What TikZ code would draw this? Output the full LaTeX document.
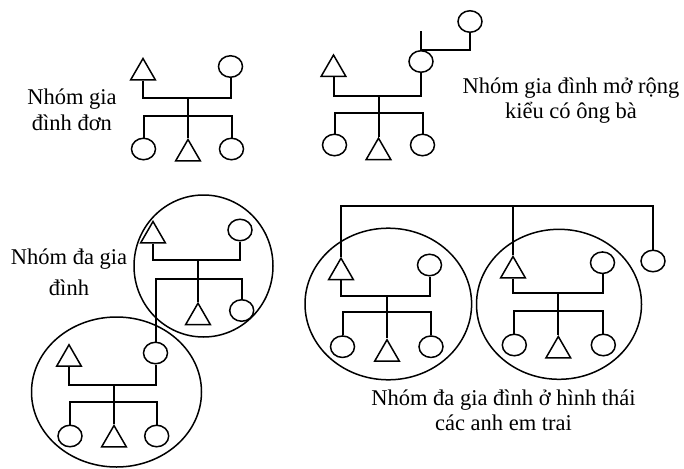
\documentclass[tikz,border=0pt]{standalone}
\usepackage{fontspec}
\setmainfont{Liberation Serif}
\usetikzlibrary{shapes.geometric}
\begin{document}
\begin{tikzpicture}[x=1pt,y=-1pt,
  fem/.style={ellipse,draw,line width=1.5pt,minimum width=24pt,minimum height=21.5pt,inner sep=0pt},
  mal/.style={regular polygon,regular polygon sides=3,draw,line width=1.5pt,minimum size=28.5pt,inner sep=0pt,anchor=north},
  ring/.style={ellipse,draw,line width=1.5pt,inner sep=0pt},
  tie/.style={line width=2pt},
  lbl/.style={align=center,font=\fontsize{22.5}{25.5}\selectfont,inner sep=0pt,anchor=base}]
\useasboundingbox (0,0) rectangle (684,468);

% Family 1: simple family
\node[mal] (f1m) at (143,57) {};
\node[fem] (f1w) at (230.5,66.5) {};
\coordinate (f1u) at (188,97.7);
\coordinate (f1l) at (188,115.7);
\node[fem] (f1k1) at (143.5,149) {};
\node[mal] (f1k2) at (188,138) {};
\node[fem] (f1k3) at (231.5,149) {};
\draw[tie] (f1m.south) |- (f1u) -| (f1w.south);
\draw[tie] (f1u) -- (f1k2.north);
\draw[tie] (f1k1.north) |- (f1l) -| (f1k3.north);

% Family 2: extended family with grandparents
\node[mal] (f2m) at (333.5,53.5) {};
\node[fem] (f2w) at (421,61.5) {};
\node[fem] (f2g) at (470,21.5) {};
\coordinate (f2gf) at (421,31.5);
\draw[tie] (f2gf) -- (f2w.north) -| (f2g.south);
\coordinate (f2u) at (378.5,95.7);
\coordinate (f2l) at (378.5,112.7);
\node[fem] (f2k1) at (334.5,145) {};
\node[mal] (f2k2) at (378.5,136.7) {};
\node[fem] (f2k3) at (422.5,145) {};
\draw[tie] (f2m.south) |- (f2u) -| (f2w.south);
\draw[tie] (f2u) -- (f2k2.north);
\draw[tie] (f2k1.north) |- (f2l) -| (f2k3.north);

% Family 3: multi-family group
\node[ring,minimum width=139pt,minimum height=142pt] (r3a) at (203.5,266) {};
\node[ring,minimum width=170pt,minimum height=150pt] (r3b) at (116.5,392) {};
\node[mal] (f3m) at (153,220) {};
\node[fem] (f3w) at (240,230) {};
\coordinate (f3u) at (198,260);
\coordinate (f3l) at (198,279.3);
\node[fem] (f3k1) at (155.5,353) {};
\node[mal] (f3k2) at (198,301.7) {};
\node[fem] (f3k3) at (241.7,310.5) {};
\draw[tie] (f3m.south) |- (f3u) -| (f3w.south);
\draw[tie] (f3u) -- (f3k2.north);
\draw[tie] (f3k1.north) |- (f3l) -| (f3k3.north);
\node[mal] (f3bm) at (69,343.3) {};
\coordinate (f3bu) at (114,384.5);
\coordinate (f3bl) at (114,401.5);
\node[fem] (f3bk1) at (70,436) {};
\node[mal] (f3bk2) at (114,424) {};
\node[fem] (f3bk3) at (156.7,436) {};
\draw[tie] (f3bm.south) |- (f3bu) -| (f3k1.south);
\draw[tie] (f3bu) -- (f3bk2.north);
\draw[tie] (f3bk1.north) |- (f3bl) -| (f3bk3.north);

% Family 4: brothers
\node[ring,minimum width=166.6pt,minimum height=151.6pt] (r4a) at (388.3,304) {};
\node[ring,minimum width=165pt,minimum height=150pt] (r4b) at (559,304.3) {};
\coordinate (f4t) at (513,206.3);
\node[mal] (f4am) at (341,256.7) {};
\node[fem] (f4aw) at (429.5,265) {};
\coordinate (f4au) at (387,296);
\coordinate (f4al) at (387,312.3);
\node[fem] (f4ak1) at (342.5,346.7) {};
\node[mal] (f4ak2) at (387,338.3) {};
\node[fem] (f4ak3) at (431,346.7) {};
\node[mal] (f4bm) at (513,255) {};
\node[fem] (f4bw) at (602.5,262.7) {};
\coordinate (f4bu) at (558.3,293.3);
\coordinate (f4bl) at (558.3,310.7);
\node[fem] (f4bk1) at (514.3,345) {};
\node[mal] (f4bk2) at (558.3,335) {};
\node[fem] (f4bk3) at (603.3,345) {};
\node[fem] (f4s) at (653,261) {};
\draw[tie] (f4am.north) |- (f4t) -| (f4s.north);
\draw[tie] (f4t) -- (f4bm.north);
\draw[tie] (f4am.south) |- (f4au) -| (f4aw.south);
\draw[tie] (f4au) -- (f4ak2.north);
\draw[tie] (f4ak1.north) |- (f4al) -| (f4ak3.north);
\draw[tie] (f4bm.south) |- (f4bu) -| (f4bw.south);
\draw[tie] (f4bu) -- (f4bk2.north);
\draw[tie] (f4bk1.north) |- (f4bl) -| (f4bk3.north);

% Labels (anchor base = baseline of the last line)
\node[lbl] (t1) at (72,130) {Nhóm gia\\đình đơn};
\node[lbl] (t2) at (571,118.5) {Nhóm gia đình mở rộng\\kiểu có ông bà};
\node[lbl] (t3) at (69,295) {Nhóm đa gia\\[5pt]đình};
\node[lbl] (t4) at (503.5,430.5) {Nhóm đa gia đình ở hình thái\\các anh em trai};
\end{tikzpicture}
\end{document}
